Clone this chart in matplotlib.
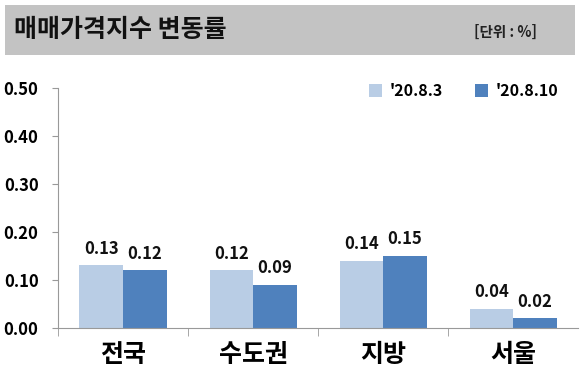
import matplotlib.pyplot as plt
import numpy as np
from matplotlib.patches import Rectangle

plt.rcParams['font.family'] = ['Noto Sans CJK KR', 'DejaVu Sans']

categories = ['전국', '수도권', '지방', '서울']
week1 = [0.13, 0.12, 0.14, 0.04]
week2 = [0.12, 0.09, 0.15, 0.02]
series_labels = ["'20.8.3", "'20.8.10"]
yticks = [0.0, 0.1, 0.2, 0.3, 0.4, 0.5]

light = '#b9cde5'
dark = '#4f81bd'

fig = plt.figure(figsize=(5.8, 3.8), dpi=100)
fig.patch.set_facecolor('white')

# gray title bar
fig.patches.append(Rectangle((0.009, 0.855), 0.982, 0.132, transform=fig.transFigure,
                             facecolor='#c3c3c3', edgecolor='none', zorder=0))
fig.text(0.025, 0.92, '매매가격지수 변동률', fontsize=18, fontweight='bold',
         va='center', ha='left', color='#111111')
fig.text(0.925, 0.915, '[단위 : %]', fontsize=10.5, fontweight='bold',
         va='center', ha='right', color='#222222')

ax = fig.add_axes([0.1, 0.137, 0.897, 0.632])
x = np.arange(len(categories))
w = 0.335
b1 = ax.bar(x - w / 2, week1, w, color=light, label=series_labels[0], zorder=2)
b2 = ax.bar(x + w / 2, week2, w, color=dark, label=series_labels[1], zorder=2)

for bars, vals in ((b1, week1), (b2, week2)):
    for rect, v in zip(bars, vals):
        ax.text(rect.get_x() + rect.get_width() / 2, v + 0.016, f'{v:.2f}',
                ha='center', va='bottom', fontsize=12, fontweight='bold', color='#111111')

ax.set_xlim(-0.5, len(categories) - 0.5)
ax.set_ylim(0, 0.5)
ax.set_yticks(yticks)
ax.set_yticklabels([f'{t:.2f}' for t in yticks], fontsize=12, fontweight='bold')
ax.set_xticks(x)
ax.set_xticklabels(categories, fontsize=18, fontweight='bold')
ax.tick_params(axis='x', length=0, pad=11)
ax.set_xticks(np.arange(len(categories)) - 0.5, minor=True)
ax.tick_params(axis='x', which='minor', length=6, color='#999999')
ax.tick_params(axis='y', length=4, color='#999999', pad=10)

for s in ('top', 'right'):
    ax.spines[s].set_visible(False)
ax.spines['left'].set_color('#999999')
ax.spines['bottom'].set_color('#999999')

ax.legend(loc='upper right', bbox_to_anchor=(0.99, 1.08), ncol=2, frameon=False,
          handlelength=0.8, handleheight=0.8, columnspacing=2.0, handletextpad=0.5,
          prop={'weight': 'bold', 'size': 11.5})

fig.savefig('out.png', dpi=100)
